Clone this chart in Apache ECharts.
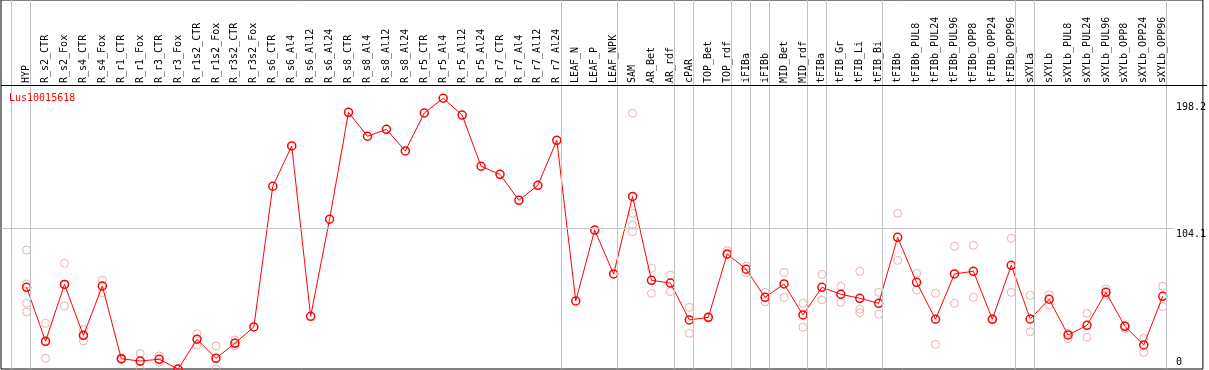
<!DOCTYPE html>
<html>
<head>
<meta charset="utf-8">
<script src="https://cdn.jsdelivr.net/npm/echarts@6/dist/echarts.min.js"></script>
<style>html,body{margin:0;padding:0;background:#fff}#c{width:1209px;height:370px}</style>
</head>
<body>
<div id="c"></div>
<script>
var geneName = 'Lus10015618';
var categories = ['HYP','R_s2_CTR','R_s2_Fox','R_s4_CTR','R_s4_Fox','R_r1_CTR','R_r1_Fox','R_r3_CTR','R_r3_Fox','R_r1s2_CTR','R_r1s2_Fox','R_r3s2_CTR','R_r3s2_Fox','R_s6_CTR','R_s6_Al4','R_s6_Al12','R_s6_Al24','R_s8_CTR','R_s8_Al4','R_s8_Al12','R_s8_Al24','R_r5_CTR','R_r5_Al4','R_r5_Al12','R_r5_Al24','R_r7_CTR','R_r7_Al4','R_r7_Al12','R_r7_Al24','LEAF_N','LEAF_P','LEAF_NPK','SAM','AR_Bet','AR_rdf','cPAR','TOP_Bet','TOP_rdf','iFIBa','iFIBb','MID_Bet','MID_rdf','tFIBa','tFIB_Gr','tFIB_Li','tFIB_Bi','tFIBb','tFIBb_PUL8','tFIBb_PUL24','tFIBb_PUL96','tFIBb_OPP8','tFIBb_OPP24','tFIBb_OPP96','sXYLa','sXYLb','sXYLb_PUL8','sXYLb_PUL24','sXYLb_PUL96','sXYLb_OPP8','sXYLb_OPP24','sXYLb_OPP96'];
var means = [60.4,20.5,62.6,24.9,61.4,7.6,5.9,7.2,0,22.0,7.9,19.0,31.1,135.2,165.0,39.0,110.8,189.9,172.2,177.3,161.3,189.4,200.3,187.9,150.0,144.0,124.8,135.9,169.2,50.3,102.8,70.3,127.7,65.6,63.6,36.3,38.2,85.1,73.8,53.0,62.9,40.0,60.4,55.3,52.3,48.6,97.4,64.1,36.8,70.3,72.3,36.8,76.7,37.0,51.6,25.2,32.3,56.7,31.6,17.8,53.8];
var replicates = [
  [88.0,62.9,48.6,42.2],[33.8,20.0,7.9],[78.2,62.9,46.6],[29.4,24.5,20.9],[65.8,61.5,56.5],
  [8.3,7.6,7.0],[11.6,5.7,0],[9.6,7.2,5.0],[0,0,0],[26.1,22.0,17.8],[17.0,7.9,0],[21.5,19.5,17.2],[],
  [],[],[],[],[],[],[],[],[],[],[],[],[],[],[],[],
  [],[],[],
  [189.2,115.2,106.5,101.6],[74.5,56.0],[69.5,57.2],[45.6,26.4],[38.6,37.8],[87.5,84.5],
  [76.2,71.3],[56.7,49.8],[71.5,53.0],[48.6,30.9],[70.0,51.1],[61.2,49.3],[72.3,44.2,41.7],[56.7,40.5],
  [115.2,80.4],[70.8,58.4],[56.0,18.3],[90.8,48.6],[91.5,53.0],[37.3,36.3],[96.7,56.7],
  [54.5,27.6],[54.8,47.4],[26.4,22.4],[41.2,23.5],[59.2,54.8],[30.1,32.5],[22.7,12.4],[61.2,46.1]
];
var groupEnds = [-1,0,28,31,34,35,37,38,39,41,42,45,52,53,60];
var yTickValues = [0,104.1,198.2];
var yTickLabels = ['0','104.1','198.2'];
var gridLineValue = 104.1;

var xMin = -1.3526, xMax = 62.121;
var meanData = means.map(function(v,i){return [i,v];});
var repData = [];
replicates.forEach(function(arr,i){arr.forEach(function(v){repData.push([i,v]);});});
var sepLines = groupEnds.map(function(g){return {xAxis: g + 0.21};});
var catIdx = categories.map(function(c,i){return i;});
var font = 'DejaVu Sans Mono';

var chart = echarts.init(document.getElementById('c'), null, {renderer:'canvas'});
chart.setOption({
  animation:false,
  title:{text:geneName,left:4,top:88,textStyle:{fontSize:10,fontFamily:font,color:'#ff0000',fontWeight:'normal'}},
  grid:{left:1,right:2,top:0,bottom:1,show:true,borderColor:'#000',borderWidth:1,backgroundColor:'#fff'},
  graphic:[{type:'line',silent:true,z:10,shape:{x1:1,y1:85.5,x2:1207,y2:85.5},style:{stroke:'#000',lineWidth:1}}],
  xAxis:{type:'value',min:xMin,max:xMax,position:'top',offset:-85,
    axisLine:{show:false},axisTick:{show:false},splitLine:{show:false},
    axisLabel:{customValues:catIdx,rotate:90,margin:2,fontSize:10,fontFamily:font,color:'#000',
      formatter:function(v){return categories[Math.round(v)]||'';}}},
  yAxis:{type:'value',min:0,max:273.0,position:'right',
    axisLine:{show:false},axisTick:{show:false},splitLine:{show:false},
    axisLabel:{inside:true,margin:27,align:'left',verticalAlign:'middle',customValues:yTickValues,fontSize:10,fontFamily:font,color:'#000',
      formatter:function(v){var k=yTickValues.indexOf(v);var s=k>=0?yTickLabels[k]:'';return v===0?'{lo|'+s+'}':'{hi|'+s+'}';},
      rich:{hi:{fontSize:10,fontFamily:font,color:'#000',padding:[12,0,0,0]},lo:{fontSize:10,fontFamily:font,color:'#000',padding:[0,0,14,0]}}}},
  series:[
    {type:'scatter',z:2,data:repData,symbol:'circle',symbolSize:8,
      itemStyle:{color:'rgba(0,0,0,0)',borderColor:'#ee9a9a',borderWidth:1},
      markLine:{silent:true,symbol:['none','none'],label:{show:false},animation:false,
        lineStyle:{color:'#c4c4c4',width:1,type:'solid'},
        data:sepLines.concat([[{coord:[xMin,gridLineValue]},{coord:[60.6,gridLineValue]}]])}},
    {type:'line',z:3,data:meanData,symbol:'circle',symbolSize:8,showSymbol:true,
      lineStyle:{color:'#ff0000',width:1},
      itemStyle:{color:'rgba(0,0,0,0)',borderColor:'#ff0000',borderWidth:1.5}}
  ]
});
</script>
</body>
</html>
